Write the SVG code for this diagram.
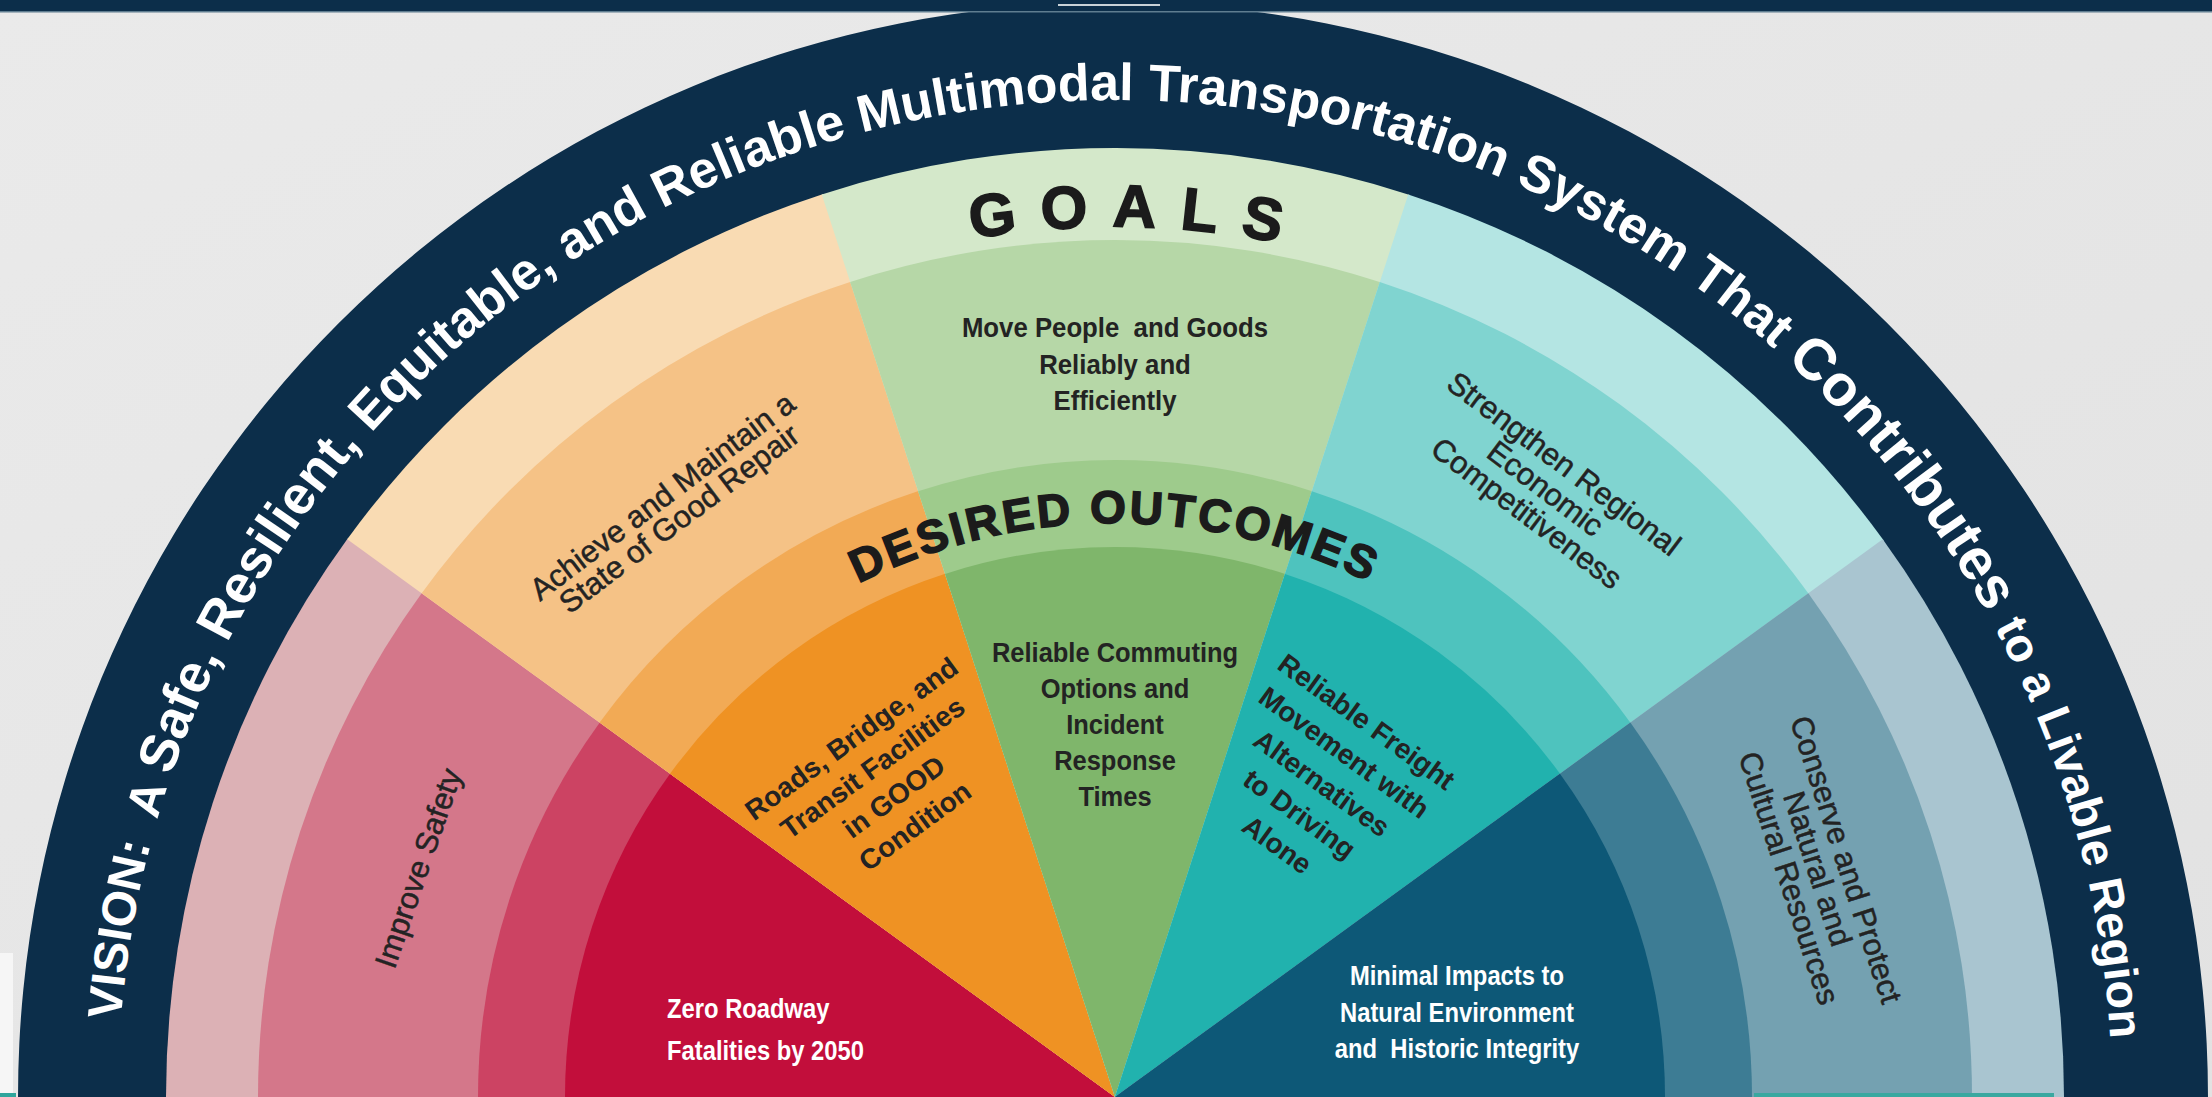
<svg xmlns="http://www.w3.org/2000/svg" xmlns:xlink="http://www.w3.org/1999/xlink" width="2212" height="1097" viewBox="0 0 2212 1097">
  <style>
    text { font-family: "Liberation Sans", Arial, sans-serif; }
    .vision { font-size: 52px; font-weight: bold; fill: #ffffff; }
    .band { font-weight: bold; fill: #1b1b1b; stroke: #1b1b1b; stroke-width: 1.6px; }
    .goal { font-size: 31px; fill: #232323; text-anchor: middle; stroke: #232323; stroke-width: 0.5px; }
    .outc { font-size: 28px; font-weight: bold; fill: #232323; text-anchor: middle; }
    .cond { font-size: 28px; font-weight: bold; fill: #232323; text-anchor: middle; }
    .left { text-anchor: start; }
    .white { fill: #ffffff; }
  </style>
  <defs>
    <linearGradient id="bg" x1="0" y1="0" x2="1" y2="1">
      <stop offset="0" stop-color="#eaeaea"/>
      <stop offset="1" stop-color="#e2e2e2"/>
    </linearGradient>
    <path id="s1" d="M1115,1097 L166,1097 A949,949 0 0 1 348.22,537.85 Z"/>
    <path id="s2" d="M1115,1097 L258,1097 A857,857 0 0 1 422.55,592.06 Z"/>
    <path id="s3" d="M1115,1097 L478,1097 A637,637 0 0 1 600.31,721.68 Z"/>
    <path id="s4" d="M1115,1097 L565,1097 A550,550 0 0 1 670.61,772.94 Z"/>
    <path id="visionPath" d="M118,1097 A997,997 0 0 1 2112,1097"/>
    <path id="goalsPath" d="M245,1097 A870,870 0 0 1 1985,1097"/>
    <path id="outPath" d="M541,1097 A574,574 0 0 1 1689,1097"/>
  </defs>

  <rect x="0" y="0" width="2212" height="1097" fill="url(#bg)"/>
  <rect x="0" y="953" width="13" height="140" fill="#f6f6f6"/>

  <g id="vision-band">
    <path d="M18,1097 A1095,1095 0 0 1 2208,1097 Z" fill="#0c2e4a"/>
  </g>

  <rect x="0" y="0" width="2212" height="12" fill="#0c2e4a"/>
  <rect x="0" y="11" width="2212" height="1.5" fill="#5f7d90"/>
  <rect x="1058" y="4" width="102" height="2" fill="#c9d2d8"/>

  <g id="wedge-safety">
    <use xlink:href="#s1" fill="#dcb1b5"/>
    <use xlink:href="#s2" fill="#d4778a"/>
    <use xlink:href="#s3" fill="#cc4363"/>
    <use xlink:href="#s4" fill="#c20e3b"/>
  </g>
  <g id="wedge-repair" transform="rotate(36 1115 1097)">
    <use xlink:href="#s1" fill="#f9dbb3"/>
    <use xlink:href="#s2" fill="#f5c286"/>
    <use xlink:href="#s3" fill="#f2aa55"/>
    <use xlink:href="#s4" fill="#ef9223"/>
  </g>
  <g id="wedge-mobility" transform="rotate(72 1115 1097)">
    <use xlink:href="#s1" fill="#d4e8ca"/>
    <use xlink:href="#s2" fill="#b6d7a7"/>
    <use xlink:href="#s3" fill="#9ecb8c"/>
    <use xlink:href="#s4" fill="#7fb66b"/>
  </g>
  <g id="wedge-economy" transform="rotate(108 1115 1097)">
    <use xlink:href="#s1" fill="#b4e5e3"/>
    <use xlink:href="#s2" fill="#80d4d0"/>
    <use xlink:href="#s3" fill="#4ec3be"/>
    <use xlink:href="#s4" fill="#21b2ae"/>
  </g>
  <g id="wedge-environment" transform="rotate(144 1115 1097)">
    <use xlink:href="#s1" fill="#a9c5d0"/>
    <use xlink:href="#s2" fill="#74a1b1"/>
    <use xlink:href="#s3" fill="#3d7c94"/>
    <use xlink:href="#s4" fill="#0d5877"/>
  </g>

  <rect x="0" y="1093" width="16" height="4" fill="#2fa59c"/>
  <rect x="1754" y="1093" width="300" height="4" fill="#3aa8a0"/>

  <g id="vision-text">
    <text class="vision"><textPath xlink:href="#visionPath" startOffset="77"><tspan font-size="48">VISION:&#160; A </tspan><tspan font-size="54">Safe, Resilient, </tspan><tspan font-size="52">Equitable, and Reliable Multimodal Transportation System That </tspan><tspan font-size="58">Contributes </tspan><tspan font-size="47">to a Livable Region</tspan></textPath></text>
  </g>

  <g id="goals-title">
    <text class="band" font-size="60" letter-spacing="24" text-anchor="middle"><textPath xlink:href="#goalsPath" startOffset="1389">GOALS</textPath></text>
  </g>
  <g id="outcomes-title">
    <text class="band" font-size="46" letter-spacing="3" text-anchor="middle"><textPath xlink:href="#outPath" startOffset="901">DESIRED OUTCOMES</textPath></text>
  </g>

  <g id="goal-safety" transform="translate(418,868) rotate(-71)">
    <text class="goal" x="0" y="11" font-size="32">Improve Safety</text>
  </g>
  <g id="goal-repair" transform="translate(671,508) rotate(-37)">
    <text class="goal" x="0" y="-4">Achieve and Maintain a</text>
    <text class="goal" x="0" y="24">State of Good Repair</text>
  </g>
  <g id="goal-mobility" transform="translate(1115,0) scale(0.92,1)">
    <text class="cond" x="0" y="337">Move People&#160; and Goods</text>
    <text class="cond" x="0" y="374">Reliably and</text>
    <text class="cond" x="0" y="410">Efficiently</text>
  </g>
  <g id="goal-economy" transform="translate(1545,489) rotate(37)">
    <text class="goal" x="0" y="-21" font-size="29">Strengthen Regional</text>
    <text class="goal" x="0" y="10" font-size="29">Economic</text>
    <text class="goal" x="0" y="41" font-size="29">Competitiveness</text>
  </g>
  <g id="goal-environment" transform="translate(1817,869) rotate(72)">
    <text class="goal" x="0" y="-20">Conserve and Protect</text>
    <text class="goal" x="0" y="10">Natural and</text>
    <text class="goal" x="0" y="40">Cultural Resources</text>
  </g>

  <g id="outcome-safety" transform="translate(667,0) scale(0.85,1)">
    <text class="cond white left" x="0" y="1018" font-size="34">Zero Roadway</text>
    <text class="cond white left" x="0" y="1060" font-size="34">Fatalities by 2050</text>
  </g>
  <g id="outcome-repair" transform="translate(883,782) rotate(-36)">
    <text class="outc" x="0" y="-44">Roads, Bridge, and</text>
    <text class="outc" x="0" y="-8">Transit Facilities</text>
    <text class="outc" x="0" y="28">in GOOD</text>
    <text class="outc" x="0" y="64">Condition</text>
  </g>
  <g id="outcome-mobility" transform="translate(1115,0) scale(0.91,1)">
    <text class="cond" x="0" y="662">Reliable Commuting</text>
    <text class="cond" x="0" y="698">Options and</text>
    <text class="cond" x="0" y="734">Incident</text>
    <text class="cond" x="0" y="770">Response</text>
    <text class="cond" x="0" y="806">Times</text>
  </g>
  <g id="outcome-economy" transform="translate(1322,783) rotate(36)">
    <text class="outc" x="0" y="-66">Reliable Freight</text>
    <text class="outc" x="0" y="-28">Movement with</text>
    <text class="outc" x="0" y="10">Alternatives</text>
    <text class="outc" x="0" y="48">to Driving</text>
    <text class="outc" x="0" y="86">Alone</text>
  </g>
  <g id="outcome-environment" transform="translate(1457,0) scale(0.85,1)">
    <text class="cond white" x="0" y="985" font-size="32">Minimal Impacts to</text>
    <text class="cond white" x="0" y="1022" font-size="32">Natural Environment</text>
    <text class="cond white" x="0" y="1058" font-size="32">and&#160; Historic Integrity</text>
  </g>
</svg>
